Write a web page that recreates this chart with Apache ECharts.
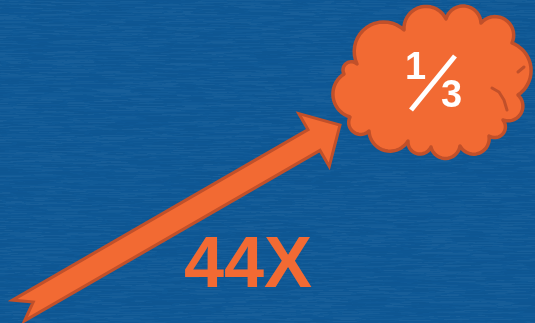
<!DOCTYPE html>
<html>
<head>
<meta charset="utf-8">
<script src="https://cdn.jsdelivr.net/npm/echarts@6/dist/echarts.min.js"></script>
<style>html,body{margin:0;padding:0;background:#0f5996;}#c{width:535px;height:323px;}</style>
</head>
<body>
<div id="c"></div>
<script>
// Content of the infographic
const growthLabel = ['44X'];
const fractionParts = ['1', '3'];   // shown as 1⁄3

const W = 535, H = 323;
const ORANGE = '#f26a33', ORANGE_DARK = '#c1502a', BLUE = '#0f5996';

// background texture (deterministic streaks)
function hash(i){ const s = Math.sin(i * 12.9898 + 78.233) * 43758.5453; return s - Math.floor(s); }
const bg = document.createElement('canvas');
bg.width = W; bg.height = H;
const g = bg.getContext('2d');
g.fillStyle = BLUE; g.fillRect(0, 0, W, H);
let k = 0;
for (let y = 0; y < H; y++) {
  let x = -20;
  while (x < W) {
    const len = 4 + hash(k++) * 30;
    const v = hash(k++);
    g.fillStyle = v > 0.5 ? 'rgba(255,255,255,' + (0.01 + 0.03 * hash(k++)) + ')' : 'rgba(0,20,60,' + (0.01 + 0.035 * hash(k++)) + ')';
    g.fillRect(x, y, len, 1);
    x += len + hash(k++) * 8;
  }
}

// arrow geometry
const tail = [18.5, 310.5], tip = [340, 125];
function arrowPoints() {
  const dx = tip[0] - tail[0], dy = tip[1] - tail[1];
  const L = Math.hypot(dx, dy), ux = dx / L, uy = dy / L, vx = -uy, vy = ux;
  const HL = 30, HH = 30.5, h = 12, notch = 17;
  const local = [[0, -h], [L - HL, -h], [L - HL, -HH], [L, 0], [L - HL, HH], [L - HL, h], [0, h], [notch, 0]];
  return local.map(p => [tail[0] + ux * p[0] + vx * p[1], tail[1] + uy * p[0] + vy * p[1]]);
}

// cloud geometry: valley points with bump sagitta
const cc = [435, 85];
const valleys = [
  [357, 64, 24], [404, 30, 18], [446, 19, 15], [481, 23, 16], [512, 43, 16], [518, 95, 12],
  [503, 120, 9], [489, 136, 13], [460, 146, 12], [431, 147, 10], [408, 141, 15], [369, 131, 10],
  [350, 117, 14], [344, 74, 7]
];
function arcPts(p1, p2, sag) {
  const mx = (p1[0] + p2[0]) / 2, my = (p1[1] + p2[1]) / 2;
  const dx = p2[0] - p1[0], dy = p2[1] - p1[1], d = Math.hypot(dx, dy);
  let nx = -dy / d, ny = dx / d;
  if ((mx - cc[0]) * nx + (my - cc[1]) * ny < 0) { nx = -nx; ny = -ny; }
  const r = (d * d / 4 + sag * sag) / (2 * sag);
  const ox = mx - nx * (r - sag), oy = my - ny * (r - sag);
  const a1 = Math.atan2(p1[1] - oy, p1[0] - ox), a2 = Math.atan2(p2[1] - oy, p2[0] - ox);
  const ap = Math.atan2(ny, nx);
  const TP = Math.PI * 2, mod = a => ((a % TP) + TP) % TP;
  let delta = mod(a2 - a1);
  if (!(mod(ap - a1) < delta)) delta = delta - TP;
  const pts = [];
  const n = 18;
  for (let i = 0; i < n; i++) {
    const a = a1 + delta * i / n;
    pts.push([ox + r * Math.cos(a), oy + r * Math.sin(a)]);
  }
  return pts;
}
function cloudPoints() {
  let pts = [];
  for (let i = 0; i < valleys.length; i++) {
    const p1 = valleys[i], p2 = valleys[(i + 1) % valleys.length];
    pts = pts.concat(arcPts(p1, p2, p1[2]));
  }
  return pts;
}

const chart = echarts.init(document.getElementById('c'), null, { renderer: 'canvas', width: W, height: H });
chart.setOption({
  animation: false,
  backgroundColor: BLUE,
  graphic: [
    { type: 'image', left: 0, top: 0, z: 0, style: { image: bg, width: W, height: H } },
    { type: 'polygon', z: 5, shape: { points: arrowPoints() },
      style: { fill: ORANGE, stroke: ORANGE_DARK, lineWidth: 3, lineJoin: 'miter' } },
    { type: 'polygon', z: 6, shape: { points: cloudPoints() },
      style: { fill: ORANGE, stroke: ORANGE_DARK, lineWidth: 3.5, lineJoin: 'round' } },
    { type: 'polyline', z: 7, shape: { points: [[492, 88], [499, 92], [504, 100], [507, 110]] },
      style: { fill: null, stroke: ORANGE_DARK, lineWidth: 3, lineCap: 'round' } },
    { type: 'polyline', z: 7, shape: { points: [[518, 72], [524, 67]] },
      style: { fill: null, stroke: ORANGE_DARK, lineWidth: 3, lineCap: 'round' } },
    { type: 'text', z: 8, x: 405, y: 68.5,
      style: { text: fractionParts[0], fill: '#ffffff', font: 'bold 38px "Liberation Sans", Arial, sans-serif', textAlign: 'left', verticalAlign: 'middle' } },
    { type: 'line', z: 8, shape: { x1: 455, y1: 56, x2: 411, y2: 110 },
      style: { stroke: '#ffffff', lineWidth: 5 } },
    { type: 'text', z: 8, x: 441, y: 96.5,
      style: { text: fractionParts[1], fill: '#ffffff', font: 'bold 38px "Liberation Sans", Arial, sans-serif', textAlign: 'left', verticalAlign: 'middle' } },
    { type: 'text', z: 8, x: 184, y: 267.5,
      style: { text: growthLabel[0], fill: ORANGE, font: 'bold 72px "Liberation Sans", Arial, sans-serif', textAlign: 'left', verticalAlign: 'middle' } }
  ]
});
</script>
</body>
</html>
